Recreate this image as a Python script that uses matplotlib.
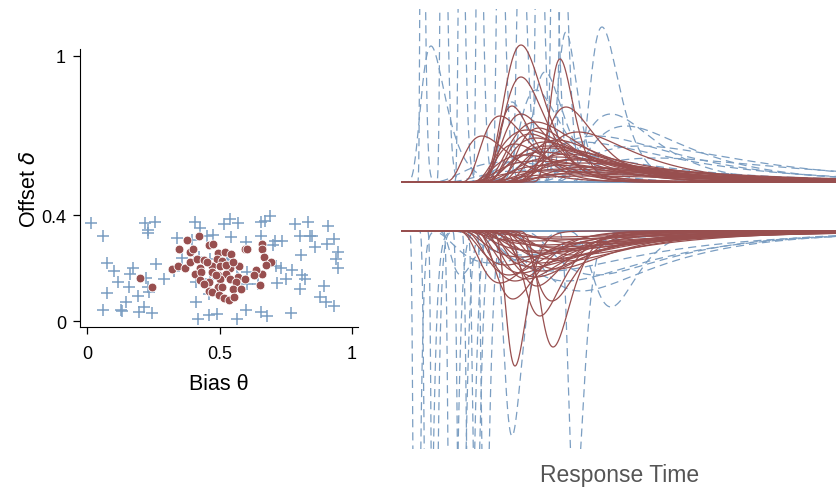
import matplotlib.pyplot as plt
import numpy as np

plt.rcParams['font.family'] = ['Liberation Sans', 'DejaVu Sans']

RED = "#984f4f"
BLUE = "#7b9ec2"

# ---- left panel: parameter estimates ----
bias_plus = [0.014, 0.059, 0.074, 0.102, 0.117, 0.077, 0.062, 0.127, 0.132, 0.157,
             0.149, 0.162, 0.175, 0.192, 0.197, 0.215, 0.222, 0.235, 0.247, 0.217,
             0.231, 0.232, 0.255, 0.260, 0.290, 0.232, 0.338, 0.330, 0.359, 0.408,
             0.426, 0.396, 0.411, 0.418, 0.421, 0.451, 0.476, 0.464, 0.431, 0.461,
             0.461, 0.491, 0.516, 0.541, 0.544, 0.571, 0.534, 0.567, 0.567, 0.569,
             0.599, 0.599, 0.604, 0.602, 0.655, 0.672, 0.692, 0.655, 0.647, 0.655,
             0.680, 0.700, 0.710, 0.735, 0.712, 0.733, 0.716, 0.752, 0.773, 0.768,
             0.785, 0.803, 0.833, 0.840, 0.850, 0.860, 0.808, 0.810, 0.823, 0.803,
             0.908, 0.906, 0.933, 0.948, 0.938, 0.948, 0.896, 0.881, 0.903, 0.933,
             0.413, 0.464, 0.528]
offset_plus = [0.370, 0.322, 0.220, 0.187, 0.149, 0.107, 0.040, 0.043, 0.036, 0.128,
               0.072, 0.178, 0.199, 0.094, 0.034, 0.051, 0.162, 0.109, 0.031, 0.370,
               0.344, 0.333, 0.373, 0.216, 0.159, 0.130, 0.312, 0.187, 0.237, 0.375,
               0.350, 0.306, 0.072, 0.006, 0.243, 0.322, 0.325, 0.235, 0.153, 0.021,
               0.103, 0.028, 0.366, 0.385, 0.317, 0.370, 0.247, 0.199, 0.006, 0.162,
               0.297, 0.040, 0.139, 0.184, 0.373, 0.379, 0.398, 0.322, 0.141, 0.034,
               0.019, 0.285, 0.302, 0.302, 0.207, 0.199, 0.144, 0.159, 0.191, 0.031,
               0.366, 0.322, 0.373, 0.322, 0.322, 0.279, 0.250, 0.172, 0.159, 0.119,
               0.358, 0.291, 0.310, 0.262, 0.235, 0.199, 0.132, 0.090, 0.072, 0.056,
               0.147, 0.159, 0.235]

bias_dot = [0.200, 0.247, 0.376, 0.423, 0.348, 0.388, 0.401, 0.459, 0.476, 0.496,
            0.521, 0.545, 0.595, 0.604, 0.662, 0.660, 0.667, 0.696, 0.677, 0.662,
            0.639, 0.629, 0.652, 0.320, 0.345, 0.371, 0.388, 0.416, 0.441, 0.489,
            0.508, 0.426, 0.471, 0.501, 0.539, 0.574, 0.406, 0.431, 0.472, 0.496,
            0.526, 0.571, 0.595, 0.426, 0.461, 0.501, 0.539, 0.564, 0.459, 0.496,
            0.511, 0.551, 0.580, 0.472, 0.499, 0.516, 0.536, 0.554, 0.441, 0.486,
            0.451, 0.526, 0.551]
offset_dot = [0.162, 0.128, 0.306, 0.320, 0.270, 0.260, 0.272, 0.285, 0.291, 0.257,
              0.262, 0.253, 0.272, 0.270, 0.291, 0.272, 0.242, 0.222, 0.210, 0.177,
              0.194, 0.172, 0.137, 0.197, 0.207, 0.199, 0.222, 0.235, 0.232, 0.235,
              0.228, 0.199, 0.207, 0.207, 0.199, 0.207, 0.178, 0.184, 0.184, 0.172,
              0.178, 0.166, 0.159, 0.153, 0.147, 0.159, 0.157, 0.149, 0.115, 0.128,
              0.128, 0.122, 0.122, 0.110, 0.099, 0.087, 0.078, 0.090, 0.141, 0.172,
              0.222, 0.210, 0.222]

# ---- right panel: RT densities, one entry per curve (onset, peak time, height, spread) ----
# upper boundary, solid curves
up_red_onset = [0.18, 0.20, 0.40, 0.36, 0.25, 0.18, 0.23, 0.12, 0.34, 0.21, 0.26, 0.29,
                0.24, 0.31, 0.26, 0.34, 0.28, 0.36, 0.23, 0.32, 0.26, 0.38, 0.29, 0.21,
                0.34, 0.26, 0.31, 0.24, 0.30, 0.27, 0.33, 0.25, 0.37, 0.22, 0.32]
up_red_peak = [0.40, 0.40, 0.53, 0.55, 0.37, 0.33, 0.40, 0.27, 0.59, 0.42, 0.45, 0.48,
               0.38, 0.50, 0.47, 0.55, 0.52, 0.58, 0.45, 0.60, 0.50, 0.62, 0.55, 0.48,
               0.65, 0.58, 0.62, 0.45, 0.46, 0.43, 0.52, 0.49, 0.56, 0.41, 0.58]
up_red_height = [6.85, 5.25, 6.15, 3.75, 3.80, 3.30, 3.40, 2.30, 2.50, 2.60, 2.20, 2.00,
                 1.90, 1.70, 1.50, 1.40, 1.25, 1.15, 1.05, 0.95, 0.85, 0.75, 0.65, 0.55,
                 0.50, 0.40, 0.30, 3.00, 2.70, 2.40, 2.10, 1.80, 1.60, 1.35, 1.10]
up_red_spread = [0.30, 0.34, 0.30, 0.42, 0.45, 0.50, 0.45, 0.48, 0.55, 0.58, 0.60, 0.62,
                 0.58, 0.66, 0.72, 0.68, 0.74, 0.70, 0.78, 0.75, 0.80, 0.75, 0.82, 0.85,
                 0.80, 0.85, 0.85, 0.55, 0.56, 0.60, 0.62, 0.68, 0.62, 0.68, 0.72]

# upper boundary, dashed curves
up_blue_onset = [0.0, 0.55, 0.26, 0.46, 0.48, 0.45, 0.08, 0.18, 0.23, 0.33, 0.38, 0.28,
                 0.13, 0.05, 0.11, 0.17, 0.23, 0.29, 0.35, 0.42, 0.47, 0.50, 0.36, 0.31]
up_blue_peak = [0.10, 0.67, 0.37, 0.70, 0.75, 0.55, 0.35, 0.50, 0.60, 0.80, 0.85, 0.65,
                0.45, 0.07, 0.14, 0.20, 0.26, 0.33, 0.40, 0.46, 0.51, 0.54, 0.48, 0.45]
up_blue_height = [6.80, 7.75, 4.00, 3.40, 2.80, 7.50, 1.00, 1.50, 2.00, 1.80, 1.20, 2.30,
                  0.60, 30.0, 25.0, 20.0, 22.0, 18.0, 15.0, 20.0, 16.0, 14.0, 5.5, 4.6]
up_blue_spread = [0.40, 0.40, 0.42, 0.48, 0.58, 0.32, 0.65, 0.65, 0.60, 0.55, 0.65, 0.55,
                  0.75, 0.30, 0.30, 0.30, 0.30, 0.30, 0.30, 0.30, 0.30, 0.35, 0.42, 0.48]

# lower boundary, solid curves
lo_red_onset = [0.26, 0.34, 0.29, 0.33, 0.28, 0.21, 0.16, 0.20, 0.24, 0.26, 0.18, 0.22,
                0.28, 0.31, 0.23, 0.17, 0.25, 0.30, 0.27, 0.19, 0.32, 0.24, 0.21, 0.29,
                0.26, 0.22, 0.33, 0.20, 0.28, 0.25]
lo_red_peak = [0.38, 0.507, 0.463, 0.503, 0.453, 0.373, 0.33, 0.38, 0.42, 0.45, 0.36, 0.40,
               0.47, 0.52, 0.44, 0.35, 0.46, 0.55, 0.50, 0.40, 0.58, 0.48, 0.45, 0.56,
               0.52, 0.47, 0.60, 0.43, 0.55, 0.50]
lo_red_height = [6.75, 5.80, 4.25, 3.50, 2.75, 3.40, 2.60, 2.50, 2.40, 2.30, 2.20, 2.10,
                 2.00, 1.90, 1.80, 1.70, 1.60, 1.50, 1.40, 1.30, 1.20, 1.10, 1.00, 0.90,
                 0.80, 0.70, 0.60, 0.50, 0.40, 0.30]
lo_red_spread = [0.28, 0.30, 0.36, 0.38, 0.42, 0.42, 0.48, 0.52, 0.54, 0.58, 0.52, 0.58,
                 0.60, 0.60, 0.65, 0.58, 0.66, 0.60, 0.66, 0.72, 0.66, 0.72, 0.78, 0.72,
                 0.78, 0.78, 0.72, 0.85, 0.78, 0.85]

# lower boundary, dashed curves
lo_blue_onset = [0.02, 0.08, 0.13, 0.19, 0.24, 0.27, 0.50, 0.50, 0.10, 0.33, 0.28, 0.23,
                 0.38, 0.05, 0.16, 0.21, 0.08, 0.16]
lo_blue_peak = [0.05, 0.11, 0.17, 0.23, 0.28, 0.37, 0.58, 0.70, 0.20, 0.60, 0.55, 0.50,
                0.65, 0.09, 0.20, 0.25, 0.30, 0.40]
lo_blue_height = [30.0, 25.0, 28.0, 20.0, 18.0, 10.25, 14.0, 3.80, 2.20, 3.00, 2.50, 2.00,
                  2.20, 24.0, 22.0, 16.0, 1.60, 1.20]
lo_blue_spread = [0.30, 0.30, 0.30, 0.30, 0.30, 0.30, 0.30, 0.35, 0.38, 0.65, 0.70, 0.75,
                  0.65, 0.30, 0.30, 0.30, 0.65, 0.75]

t = np.linspace(0, 1.45, 1500)


def rt_curve(onset, peak, height, spread):
    s = np.clip(t - onset, 1e-9, None)
    m = peak - onset
    y = height * np.exp(-np.log(s / m) ** 2 / (2 * spread ** 2))
    y[t <= onset] = 0
    return y


fig = plt.figure(figsize=(8.36, 4.89), dpi=100)

# scatter
ax = fig.add_axes([80 / 836, 1 - 328 / 489, 278 / 836, 278 / 489])
ax.scatter(bias_plus, offset_plus, marker="+", s=85, color=BLUE, linewidths=1.1, zorder=2)
ax.scatter(bias_dot, offset_dot, marker="o", s=40, color=RED, edgecolors="white",
           linewidths=0.6, zorder=3)
ax.set_xlim(-0.0264, 1.0226)
ax.set_ylim(-0.0226, 1.0264)
ax.set_xticks([0, 0.5, 1])
ax.set_xticklabels(["0", "0.5", "1"])
ax.set_yticks([0, 0.4, 1])
ax.set_yticklabels(["0", "0.4", "1"])
ax.tick_params(labelsize=13, length=5, width=0.9, direction="out")
ax.tick_params(axis="x", pad=8)
ax.tick_params(axis="y", pad=5)
for side in ["top", "right"]:
    ax.spines[side].set_visible(False)
ax.set_xlabel("Bias θ", fontsize=15.5, labelpad=8)
ax.set_ylabel(r"Offset $\delta$", fontsize=15.5, labelpad=1)

# RT densities
ax_up = fig.add_axes([401 / 836, 1 - 185 / 489, 435 / 836, 175 / 489])
ax_lo = fig.add_axes([401 / 836, 1 - 450 / 489, 435 / 836, 220 / 489])

for a, b, c, d in zip(up_blue_onset, up_blue_peak, up_blue_height, up_blue_spread):
    ax_up.plot(t, rt_curve(a, b, c, d), color=BLUE, lw=0.9, dashes=(6.5, 4))
for a, b, c, d in zip(up_red_onset, up_red_peak, up_red_height, up_red_spread):
    ax_up.plot(t, rt_curve(a, b, c, d), color=RED, lw=0.9)
for a, b, c, d in zip(lo_blue_onset, lo_blue_peak, lo_blue_height, lo_blue_spread):
    ax_lo.plot(t, rt_curve(a, b, c, d), color=BLUE, lw=0.9, dashes=(6.5, 4))
for a, b, c, d in zip(lo_red_onset, lo_red_peak, lo_red_height, lo_red_spread):
    ax_lo.plot(t, rt_curve(a, b, c, d), color=RED, lw=0.9)

ax_up.set_xlim(0, 1.45)
ax_up.set_ylim(-0.1, 8.65)
ax_lo.set_xlim(0, 1.45)
ax_lo.set_ylim(10.9, -0.1)
for a in (ax_up, ax_lo):
    a.axis("off")

fig.text(620 / 836, 1 - 476 / 489, "Response Time", fontsize=16.5, color="#555555",
         ha="center", va="center")

fig.savefig("out.png", dpi=100)
